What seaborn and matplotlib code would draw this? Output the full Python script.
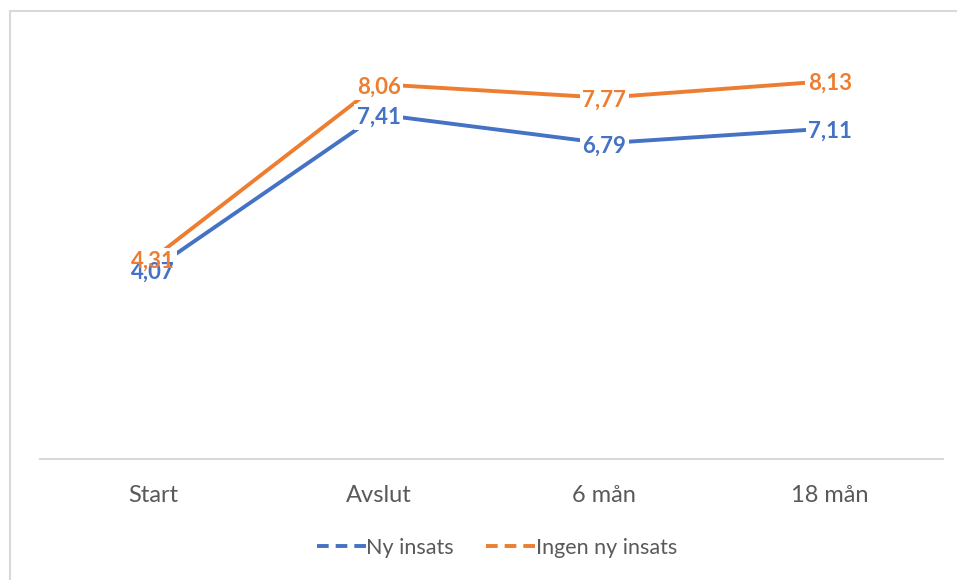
import matplotlib
matplotlib.use("Agg")
import matplotlib.pyplot as plt
from matplotlib.lines import Line2D
from matplotlib.patches import Rectangle
from matplotlib.transforms import offset_copy
import pandas as pd
import seaborn as sns

# Measurement points and mean scores per group
categories = ["Start", "Avslut", "6 mån", "18 mån"]
ny_insats = [4.07, 7.41, 6.79, 7.11]
ingen_ny_insats = [4.31, 8.06, 7.77, 8.13]
series_names = ["Ny insats", "Ingen ny insats"]
colors = ["#4472C4", "#ED7D31"]

df = pd.concat([
    pd.DataFrame({"tid": categories, "varde": ny_insats, "grupp": series_names[0]}),
    pd.DataFrame({"tid": categories, "varde": ingen_ny_insats, "grupp": series_names[1]}),
])

sns.set_theme(style="white")
plt.rcParams["font.family"] = ["Lato", "DejaVu Sans"]

W, H = 957, 580
fig = plt.figure(figsize=(W / 100, H / 100), dpi=100)

# Chart-area frame
fig.patches.append(Rectangle((10 / W, -0.01), 1.0, (H - 11) / H + 0.01,
                             transform=fig.transFigure, fill=False,
                             edgecolor="#d9d9d9", linewidth=1.5, zorder=0))

ax = fig.add_axes([40 / W, (H - 459) / H, 903 / W, 418.5 / H])
sns.lineplot(data=df, x="tid", y="varde", hue="grupp", palette=colors,
             hue_order=series_names, linewidth=2.8, legend=False, ax=ax,
             sort=False)

ax.set_xlim(-0.5, 3.5)
ax.set_ylim(0, 9.0)
ax.set_xlabel("")
ax.set_ylabel("")
ax.set_yticks([])
ax.tick_params(axis="x", length=0, pad=19, labelsize=17, labelcolor="#595959")
for side in ["left", "right", "top"]:
    ax.spines[side].set_visible(False)
ax.spines["bottom"].set_color("#d9d9d9")
ax.spines["bottom"].set_linewidth(1.5)

label_kw = dict(ha="center", va="center", fontsize=16, fontweight="bold")
label_tr = offset_copy(ax.transData, fig=fig, x=0, y=-2.5, units="dots")

# White boxes that break the lines behind each value label
for vals in [ny_insats, ingen_ny_insats]:
    for i, v in enumerate(vals):
        ax.text(i, v, f"{v:.2f}".replace(".", ","), color="white", zorder=4,
                transform=label_tr,
                bbox=dict(boxstyle="square,pad=0.12", facecolor="white",
                          edgecolor="none"), **label_kw)

# Value labels, second series on top
for k, (vals, col) in enumerate(zip([ny_insats, ingen_ny_insats], colors)):
    for i, v in enumerate(vals):
        ax.text(i, v, f"{v:.2f}".replace(".", ","), color=col, zorder=5 + k,
                transform=label_tr, **label_kw)

handles = [Line2D([0], [0], color=c, linewidth=2.8, linestyle=(0, (3.0, 1.8)))
           for c in colors]
fig.legend(handles, series_names, loc="center", bbox_to_anchor=(497 / W, 1 - 548 / H),
           ncol=2, frameon=False, fontsize=15.5, handlelength=2.3,
           handletextpad=0.0, columnspacing=1.5, labelcolor="#595959")

fig.savefig("out.png", dpi=100, facecolor="white")
